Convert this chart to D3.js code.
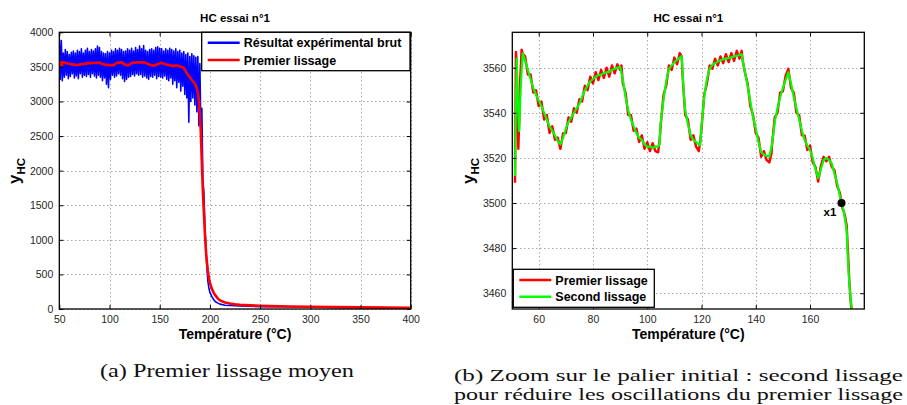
<!DOCTYPE html>
<html><head><meta charset="utf-8">
<script src="https://cdn.jsdelivr.net/npm/d3@7"></script>
<style>body{margin:0;background:#fff}svg{display:block}</style>
</head><body><svg id="c" width="907" height="405"></svg>
<script>
// ---------- DATA ----------
// raw experimental signal (Température °C, y_HC)
const rawSignal = [
[50,3920],[51,3320],[52,3880],[53,3300],[54,3700],[55,3350],[56,3750],[57,3380],[58,3720],[59,3330],
[60,3680],[61,3360],[62,3710],[63,3400],[64,3730],[65,3340],[66,3700],[67,3370],[68,3740],[69,3330],
[70,3720],[71,3400],[72,3760],[73,3350],[74,3700],[75,3380],[76,3740],[77,3360],[78,3770],[79,3390],
[80,3720],[81,3350],[82,3750],[83,3400],[84,3730],[85,3370],[86,3760],[87,3340],[88,3800],[89,3380],
[90,3780],[91,3350],[92,3720],[93,3300],[94,3700],[95,3340],[96,3690],[97,3250],[98,3720],[99,3200],
[100,3700],[101,3320],[102,3740],[103,3380],[104,3720],[105,3350],[106,3760],[107,3370],[108,3740],[109,3400],
[110,3770],[111,3380],[112,3750],[113,3330],[114,3720],[115,3290],[116,3730],[117,3320],[118,3760],[119,3350],
[120,3740],[121,3360],[122,3770],[123,3390],[124,3730],[125,3370],[126,3780],[127,3400],[128,3750],[129,3380],
[130,3800],[131,3390],[132,3760],[133,3350],[134,3810],[135,3370],[136,3740],[137,3340],[138,3720],[139,3320],
[140,3750],[141,3360],[142,3760],[143,3350],[144,3740],[145,3380],[146,3780],[147,3330],[148,3790],[149,3360],
[150,3770],[151,3350],[152,3760],[153,3340],[154,3730],[155,3370],[156,3760],[157,3320],[158,3740],[159,3300],
[160,3770],[161,3340],[162,3750],[163,3250],[164,3730],[165,3300],[166,3760],[167,3200],[168,3720],[169,3280],
[170,3740],[171,3150],[172,3700],[173,3220],[174,3720],[175,3100],[176,3680],[177,3050],[178,3700],[179,2700],
[180,3650],[181,3000],[182,3690],[183,3050],[184,3660],[185,2950],[186,3640],[187,2850],[188,3650],[189,2650],
[190,3550],[191,2600],[192,2900],[193,1850],[194,1700],[195,1200],[196,900],[197,600],[198,400],[199,300],
[200,240],[202,180],[204,130],[206,100],[208,85],[210,70],[215,55],[220,50],[230,45],[240,40],
[250,35],[270,32],[300,28],[330,24],[360,20],[400,15]
];
// first smoothing
const premierLissage = [
[51.27,3509],[51.45,3540],[51.6,3567],[51.9,3562],[52.2,3535],[52.5,3524],[52.9,3540],[53.2,3555],[53.7,3568],[54.2,3566],
[55,3565],[56,3557],[57,3557],[58,3549],[59,3550],[60,3543],[61,3545],[62,3537],[63,3539],[64,3531],
[65,3534],[66,3528],[67,3529],[68,3524],[69,3531],[70,3531],[71,3538],[72,3536],[73,3542],[74,3540],
[75,3546],[76,3545],[77,3552],[78,3550],[79,3556],[80,3553],[81,3558],[82,3554.5],[83,3559],[84,3555.5],
[85,3560],[86,3556],[87,3561],[88,3557.5],[89,3561.5],[90,3559],[90.5,3561],[91,3553],[92,3549],[93,3539],
[94,3539],[95,3532],[96,3533],[97,3527],[98,3530],[99,3524],[100,3527],[101,3523],[102,3526.5],[103,3523],
[104,3522.5],[104.5,3527],[105,3535],[106,3548],[107,3552],[108,3561],[109,3559],[110,3564.5],[111,3561.5],[112,3566.5],
[112.7,3565],[113,3557],[113.5,3548],[114,3539],[115,3537],[116,3528],[117,3530],[118,3525],[119,3523],[119.5,3527],
[120,3533],[121,3548],[122,3553],[123,3561],[124,3559.5],[125,3564],[126,3561],[127,3565],[128,3562],[129,3566],
[130,3562.5],[131,3566.5],[132,3563],[133,3567.5],[134,3564],[134.8,3567.5],[135.2,3563],[136,3558],[137,3553],[138,3543],
[139,3539],[140,3531],[141,3529],[142,3520.5],[143,3523],[144,3519],[145,3518],[145.8,3522],[146,3526],[147,3538],
[148,3540],[149,3549],[150,3549.5],[151,3556.5],[152,3559.5],[153,3551],[154,3549],[155,3540],[156,3539],[157,3530],
[158,3530],[159,3523.5],[160,3525.5],[161,3518],[162,3516],[163,3509.5],[164,3516.5],[165,3520.5],[166,3518.5],[167,3520.5],
[168,3516],[169,3514.5],[170,3507.5],[171,3504.5],[172,3497.5],[172.5,3496],[173,3493.5],[173.5,3490],[174,3478],[174.5,3465],
[175,3456],[175.5,3450],[176,3435],[178,3385],[180,3350],[182,3310],[184,3280],[186,3230],[187,3190],[188,3120],
[189,3020],[190,2800],[191,2550],[192,2100],[193,1700],[194,1400],[195,1100],[196,850],[197,680],[198,550],
[199,450],[200,376],[202,290],[204,230],[206,185],[208,150],[210,125],[215,95],[220,78],[225,68],
[230,60],[240,52],[250,46],[260,42],[280,36],[300,32],[325,27],[350,23],[375,20],[400,17]
];
// second smoothing
const secondLissage = [
[51.3,3512],[51.6,3545],[51.9,3564],[52.3,3545],[52.8,3532],[53.3,3550],[54.1,3566.4],[55,3563],[56,3559],[57,3555],
[58,3551],[59,3548],[60,3545.5],[61,3543],[62,3540],[63,3537],[64,3534],[65,3532],[66,3530],[67,3527.5],
[68,3526],[69,3529],[70,3533],[71,3536],[72,3538],[73,3540],[74,3542],[75,3544],[76,3547],[77,3550],
[78,3552],[79,3554],[80,3555],[81,3556],[82,3556.7],[83,3557],[84,3557.5],[85,3558],[86,3558],[87,3559],
[88,3559.5],[89,3560],[90,3560.4],[91,3555],[92,3547],[93,3541],[94,3537],[95,3534],[96,3531],[97,3529],
[98,3528],[99,3526],[100,3525],[101,3525],[102,3524.5],[103,3525],[104,3525],[104.5,3526],[105,3536],[106,3546],
[107,3554],[108,3559.5],[109,3561],[110,3562.5],[111,3563.5],[112,3564.5],[112.7,3565.2],[113.5,3548],[114,3541],[115,3535],
[116,3530],[117,3528],[118,3527],[119,3526],[119.5,3525.5],[120,3534],[121,3547],[122,3555],[123,3559.5],[124,3561.3],
[125,3562],[126,3562.7],[127,3563.3],[128,3563.7],[129,3564],[130,3564.3],[131,3564.6],[132,3565],[133,3565.3],[134,3565.6],
[134.8,3565.9],[136,3558],[137,3552],[138,3545],[139,3538],[140,3533],[141,3527],[142,3522.5],[143,3521.5],[144,3521],
[145,3520.5],[146,3526],[147,3536],[148,3542],[149,3547],[150,3551],[151,3554.5],[152,3558],[153,3553],[154,3547],
[155,3542],[156,3537],[157,3532],[158,3528],[159,3525.5],[160,3523.5],[161,3520],[162,3515],[163,3511],[164,3515],
[165,3519],[166,3520],[167,3519],[168,3517.5],[169,3513],[170,3509],[171,3503],[172,3499],[173,3492],[173.5,3488],
[174,3474],[174.5,3464],[175,3457],[175.4,3453],[176,3440]
];
const pointX1 = [171.6, 3500];
const xTicksA = [50,100,150,200,250,300,350,400];
const yTicksA = [0,500,1000,1500,2000,2500,3000,3500,4000];
const xTicksB = [60,80,100,120,140,160];
const yTicksB = [3460,3480,3500,3520,3540,3560];
const legendA = ["Résultat expérimental brut","Premier lissage"];
const legendB = ["Premier lissage","Second lissage"];
const titleText = "HC essai n°1";
const xLabel = "Température (°C)";
const captionA = "(a) Premier lissage moyen";
const captionB = ["(b) Zoom sur le palier initial : second lissage","pour réduire les oscillations du premier lissage"];

// ---------- DRAW ----------
const svg = d3.select('#c');
const SANS = "'Liberation Sans', Arial, Helvetica, sans-serif";
const SERIF = "'Liberation Serif', 'Times New Roman', serif";

function panel(o){
  const x = d3.scaleLinear().domain(o.xd).range([o.x0,o.x1]);
  const y = d3.scaleLinear().domain(o.yd).range([o.y1,o.y0]);
  const g = svg.append('g');
  const cid = 'clip'+o.name;
  svg.append('clipPath').attr('id',cid).append('rect')
    .attr('x',o.x0).attr('y',o.y0).attr('width',o.x1-o.x0).attr('height',o.y1-o.y0);
  // grid
  const grid = g.append('g').attr('stroke','#808080').attr('stroke-width',1).attr('stroke-dasharray','1,3');
  grid.selectAll('.gx').data(o.xt).enter().append('line')
    .attr('x1',d=>Math.round(x(d))+0.5).attr('x2',d=>Math.round(x(d))+0.5).attr('y1',o.y0).attr('y2',o.y1);
  grid.selectAll('.gy').data(o.yt).enter().append('line')
    .attr('y1',d=>Math.round(y(d))+0.5).attr('y2',d=>Math.round(y(d))+0.5).attr('x1',o.x0).attr('x2',o.x1);
  // series
  const line = d3.line().x(d=>x(d[0])).y(d=>y(d[1]));
  const data = g.append('g').attr('clip-path',`url(#${cid})`);
  o.series.forEach(s=>{
    data.append('path').datum(s.data).attr('d',line).attr('fill','none')
      .attr('stroke',s.color).attr('stroke-width',s.w).attr('stroke-linejoin','round');
  });
  // box
  g.append('rect').attr('x',o.x0).attr('y',o.y0).attr('width',o.x1-o.x0).attr('height',o.y1-o.y0)
    .attr('fill','none').attr('stroke','#000').attr('stroke-width',1.3);
  // axes
  const fmt = d3.format('d');
  const styleAxis = sel => { sel.select('.domain').remove();
    sel.selectAll('text').attr('font-family',SANS).attr('font-size','10.5px').attr('fill','#262626');
    sel.selectAll('line').attr('stroke','#000'); };
  g.append('g').attr('transform',`translate(0,${o.y1})`)
    .call(d3.axisBottom(x).tickValues(o.xt).tickFormat(fmt).tickSizeInner(-4).tickSizeOuter(0).tickPadding(7)).call(styleAxis);
  g.append('g').attr('transform',`translate(${o.x0},0)`)
    .call(d3.axisLeft(y).tickValues(o.yt).tickFormat(fmt).tickSizeInner(-4).tickSizeOuter(0).tickPadding(6)).call(styleAxis);
  g.append('g').attr('transform',`translate(0,${o.y0})`)
    .call(d3.axisTop(x).tickValues(o.xt).tickSizeInner(-4).tickSizeOuter(0).tickFormat('')).call(styleAxis);
  g.append('g').attr('transform',`translate(${o.x1},0)`)
    .call(d3.axisRight(y).tickValues(o.yt).tickSizeInner(-4).tickSizeOuter(0).tickFormat('')).call(styleAxis);
  // title
  g.append('text').attr('x',(o.x0+o.x1)/2).attr('y',22).attr('text-anchor','middle')
    .attr('font-family',SANS).attr('font-weight','bold').attr('font-size','11.5px').text(titleText);
  // x label
  g.append('text').attr('x',(o.x0+o.x1)/2).attr('y',339).attr('text-anchor','middle')
    .attr('font-family',SANS).attr('font-weight','bold').attr('font-size','14px').text(xLabel);
  // y label
  const yl = g.append('text').attr('transform',`translate(${o.ylx},171) rotate(-90)`).attr('text-anchor','middle')
    .attr('font-family',SANS).attr('font-weight','bold');
  yl.append('tspan').attr('font-size','17px').text('y');
  yl.append('tspan').attr('font-size','11.5px').attr('dy',5).text('HC');
  // legend
  const L = o.legend;
  const lg = g.append('g');
  lg.append('rect').attr('x',L.x).attr('y',L.y).attr('width',L.w).attr('height',L.h)
    .attr('fill','#fff').attr('stroke','#000').attr('stroke-width',1.3);
  L.items.forEach((it,i)=>{
    const yy = L.y + L.dy0 + i*L.step;
    lg.append('line').attr('x1',L.x+6).attr('x2',L.x+38).attr('y1',yy).attr('y2',yy)
      .attr('stroke',it.color).attr('stroke-width',2.5);
    lg.append('text').attr('x',L.x+42).attr('y',yy+4.5).attr('font-family',SANS).attr('font-weight','bold')
      .attr('font-size','12.5px').text(it.label);
  });
  return {x,y,g};
}

const A = panel({name:'a', xd:[50,400], yd:[0,4000], x0:59.3, x1:410.7, y0:32.3, y1:309,
  xt:xTicksA, yt:yTicksA, ylx:20,
  series:[{data:rawSignal,color:'#0000ff',w:1.6},{data:premierLissage,color:'#ff0000',w:2.6}],
  legend:{x:201.7,y:32.3,w:208.3,h:38.4,dy0:10.4,step:17.3,
    items:[{label:legendA[0],color:'#0000ff'},{label:legendA[1],color:'#ff0000'}]}});

const B = panel({name:'b', xd:[50.27,180], yd:[3453,3575.7], x0:512.3, x1:864.3, y0:32.3, y1:309,
  xt:xTicksB, yt:yTicksB, ylx:474,
  series:[{data:premierLissage,color:'#ff0000',w:2.4},{data:secondLissage,color:'#00ff00',w:2.2}],
  legend:{x:513.3,y:269.3,w:141,h:38,dy0:10.7,step:16.7,
    items:[{label:legendB[0],color:'#ff0000'},{label:legendB[1],color:'#00ff00'}]}});

// x1 marker
B.g.append('circle').attr('cx',B.x(pointX1[0])).attr('cy',B.y(pointX1[1])).attr('r',4).attr('fill','#000');
B.g.append('text').attr('x',B.x(pointX1[0])-18).attr('y',B.y(pointX1[1])+13).attr('font-family',SANS)
  .attr('font-weight','bold').attr('font-size','11.5px').text('x1');

// captions
svg.append('text').attr('x',100).attr('y',377).attr('font-family',SERIF).attr('font-size','19px')
  .attr('fill','#111').attr('textLength',254).attr('lengthAdjust','spacingAndGlyphs').text(captionA);
captionB.forEach((t,i)=>{
  svg.append('text').attr('x',454).attr('y',381+i*19).attr('font-family',SERIF).attr('font-size','17px')
    .attr('fill','#111').attr('textLength',449).attr('lengthAdjust','spacingAndGlyphs').text(t);
});
</script></body></html>
